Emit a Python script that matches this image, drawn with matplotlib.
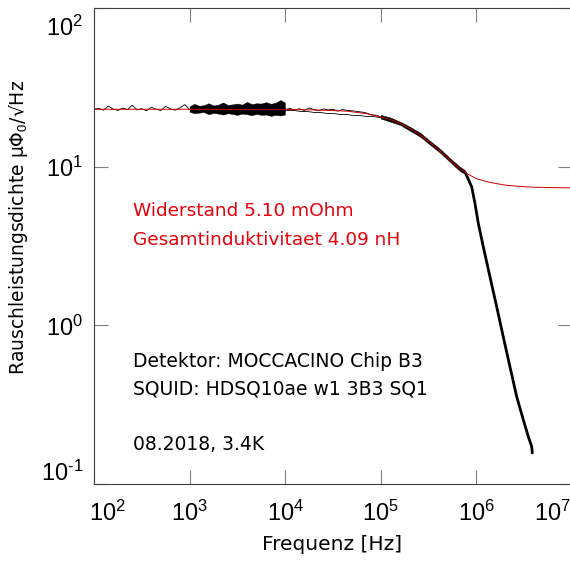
import matplotlib
matplotlib.use('Agg')
import matplotlib.pyplot as plt
from matplotlib.transforms import ScaledTranslation

plt.rcParams['font.family'] = ['DejaVu Sans']
plt.rcParams['mathtext.fontset'] = 'custom'
plt.rcParams['mathtext.rm'] = 'Liberation Sans'
plt.rcParams['mathtext.it'] = 'Liberation Sans:italic'
plt.rcParams['mathtext.bf'] = 'Liberation Sans:bold'

# measured noise trace (center), Hz / muPhi0/sqrt(Hz)
freq_hz = [100, 112, 126, 141, 158, 178, 200, 224, 251, 282, 316, 355, 398, 447,
           501, 562, 631, 708, 794, 891, 1000, 2000, 4000, 7000, 9900,
           10000, 11200, 12600, 14100, 15800, 17800, 20000, 22400, 25100, 28200,
           31600, 35500, 39800, 44700, 50100, 56200, 63100, 70800, 79400, 89100,
           100000, 126000, 160000, 200000, 260000, 320000, 420000, 530000, 670000,
           760000, 893000, 966000, 1047000, 1180000, 1387000, 1630000, 1910000,
           2244000, 2640000, 3100000, 3490000, 3790000, 3850000]
psd = [23.0, 23.3, 22.7, 24.1, 23.1, 22.6, 23.4, 22.9, 24.4, 22.8, 23.2, 22.5, 23.7, 23.0,
       22.6, 24.0, 23.1, 22.7, 23.5, 24.6, 22.9, 23.0, 23.0, 23.0, 23.0,
       22.9, 23.3, 22.7, 23.2, 22.6, 23.4, 22.9, 22.5, 23.1, 22.8,
       23.0, 22.4, 22.9, 22.6, 22.5, 22.3, 22.1, 21.8, 21.2, 21.1,
       20.6, 19.8, 18.7, 17.4, 15.8, 14.3, 12.5, 11.0, 9.7,
       9.25, 7.46, 5.87, 4.39, 3.13, 2.02, 1.31, 0.847,
       0.548, 0.355, 0.253, 0.199, 0.172, 0.155]

# dense noise band of the measurement
band_freq = [1000, 1120, 1260, 1410, 1580, 1780, 2000, 2240, 2510, 2820, 3160, 3550,
             3980, 4470, 5010, 5620, 6310, 7080, 7940, 8910, 9900, 10000,
             99000, 100000, 126000, 160000, 200000, 260000, 320000, 420000, 530000,
             670000, 760000]
band_lo = [22.2, 21.7, 21.9, 22.1, 21.4, 21.8, 21.6, 21.3, 21.7, 21.5, 21.2, 21.6,
           21.4, 21.1, 21.5, 21.2, 21.3, 20.9, 21.2, 21.0, 21.3, 22.9,
           20.6, 20.1, 19.2, 18.3, 16.9, 15.4, 13.9, 12.2, 10.7,
           9.4, 9.0]
band_hi = [24.0, 24.9, 24.2, 24.4, 25.1, 24.3, 24.6, 25.4, 24.5, 24.7, 25.0, 24.6,
           25.6, 24.8, 25.1, 25.0, 25.5, 24.9, 25.3, 26.3, 25.4, 22.9,
           20.6, 21.2, 20.4, 19.2, 17.9, 16.3, 14.7, 12.9, 11.3,
           10.0, 9.5]

# fit
fit_freq = [100, 1000, 10000, 20000, 44000, 70000, 100000, 126000, 160000, 200000,
            260000, 320000, 420000, 530000, 670000, 760000, 800000, 900000, 1000000,
            1200000, 1400000, 2000000, 2900000, 4000000, 5900000, 10000000]
fit_psd = [23.0, 23.0, 22.9, 22.8, 22.4, 21.6, 20.6, 19.8, 18.7, 17.4,
           15.8, 14.3, 12.5, 11.0, 9.7, 9.25, 9.0, 8.7, 8.4,
           8.15, 7.95, 7.65, 7.5, 7.42, 7.38, 7.35]

x_ticks = [1e2, 1e3, 1e4, 1e5, 1e6, 1e7]
x_ticklabels = ['$10^{2}$', '$10^{3}$', '$10^{4}$', '$10^{5}$', '$10^{6}$', '$10^{7}$']
y_ticks = [1e-1, 1e0, 1e1, 1e2]
y_ticklabels = ['$10^{\\text{-1}}$', '$10^{0}$', '$10^{1}$', '$10^{2}$']

fig = plt.figure(figsize=(5.7, 5.61), dpi=100)
ax = fig.add_axes([94 / 570, 77 / 561, 478 / 570, 476 / 561])

ax.fill_between(band_freq, band_lo, band_hi, color='black', lw=0.3)
ax.plot(freq_hz, psd, color='black', lw=0.6)
drop = [i for i, f in enumerate(freq_hz) if f >= 760000]
ax.plot([freq_hz[i] for i in drop], [psd[i] for i in drop], color='black', lw=2.0,
        solid_capstyle='butt')
ax.plot(fit_freq, fit_psd, color='#cc0000', lw=0.7)

ax.set_xscale('log')
ax.set_yscale('log')
ax.set_xlim(1e2, 1e7)
ax.set_ylim(1e-1, 1e2)
ax.set_xticks(x_ticks)
ax.set_xticklabels(x_ticklabels)
ax.set_yticks(y_ticks)
ax.set_yticklabels(y_ticklabels)
ax.minorticks_off()
ax.tick_params(which='major', direction='in', length=10, width=0.8, color='#808080',
               top=True, right=True, labelsize=17)
ax.tick_params(axis='x', pad=12)
ax.tick_params(axis='y', pad=8)
for s in ax.spines.values():
    s.set_color('#404040')
    s.set_linewidth(0.8)

# keep edge labels inside the figure
def shift(lbl, dx, dy):
    lbl.set_transform(lbl.get_transform() + ScaledTranslation(dx / 100, dy / 100, fig.dpi_scale_trans))

xl = ax.get_xticklabels()
shift(xl[0], 13, 0)
shift(xl[-1], -20, 0)
yl = ax.get_yticklabels()
shift(yl[0], 0, 13)
shift(yl[-1], 0, -18)

ax.set_xlabel('Frequenz [Hz]', fontsize=14.5)
ax.xaxis.set_label_coords(0.498, -0.107)
ax.set_ylabel('Rauschleistungsdichte μΦ$_0$/√Hz', fontsize=13.5)
ax.yaxis.set_label_coords(-0.134, 0.538)

ax.text(0.0816, 0.563, 'Widerstand 5.10 mOhm', color='#e8000b', fontsize=13.3,
        transform=ax.transAxes, va='baseline')
ax.text(0.0816, 0.502, 'Gesamtinduktivitaet 4.09 nH', color='#e8000b', fontsize=13.3,
        transform=ax.transAxes, va='baseline')
ax.text(0.0816, 0.246, 'Detektor: MOCCACINO Chip B3', color='black', fontsize=13.5,
        transform=ax.transAxes, va='baseline')
ax.text(0.0816, 0.187, 'SQUID: HDSQ10ae w1 3B3 SQ1', color='black', fontsize=13.5,
        transform=ax.transAxes, va='baseline')
ax.text(0.0816, 0.0714, '08.2018, 3.4K', color='black', fontsize=13.5,
        transform=ax.transAxes, va='baseline')

fig.savefig('out.png', dpi=100)
